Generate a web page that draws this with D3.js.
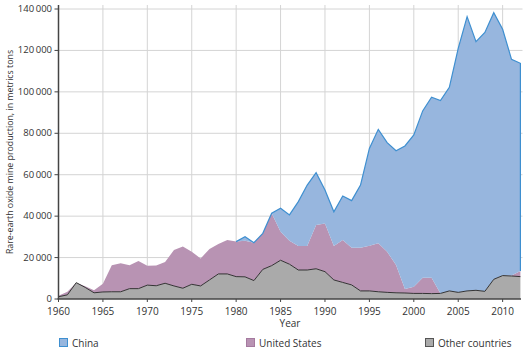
<!DOCTYPE html>
<html>
<head>
<meta charset="utf-8">
<script src="https://cdn.jsdelivr.net/npm/d3@7"></script>
<style>
  body { margin: 0; background: #fff; }
  text { font-family: 'Open Sans', sans-serif; fill: #333; }
</style>
</head>
<body>
<div id="chart"></div>
<script>
// years 1960-2012, metric tons of rare-earth oxide
var years = d3.range(1960, 2013);

var other = [1100, 2000, 7900, 5600, 3000, 3400, 3500, 3500, 5000, 5000,
    6700, 6400, 7600, 6300, 5200, 7100, 6300, 9200, 12100, 12100,
    10800, 10700, 8900, 14300, 16100, 18700, 16800, 14000, 14000, 14600,
    13200, 9200, 8000, 6800, 3900, 3900, 3500, 3200, 3000, 2900,
    2700, 2700, 2600, 2700, 3900, 3200, 3900, 4200, 3700, 9500,
    11300, 11100, 10800];

var unitedStates = [500, 1500, 0, 500, 1200, 4000, 12800, 13700, 11300, 13300,
    9400, 9800, 10300, 17300, 20200, 15700, 13300, 14900, 14400, 16400,
    16900, 17400, 18300, 17400, 25300, 13800, 11300, 11600, 11600, 21100,
    23300, 16400, 20500, 18000, 20900, 21800, 23400, 19600, 13400, 1900,
    3200, 7600, 7700, 0, 0, 0, 0, 0, 0, 0,
    0, 300, 2700];

var china = [0, 0, 0, 0, 0, 0, 0, 0, 0, 0,
    0, 0, 0, 0, 0, 0, 0, 0, 0, 0,
    0, 2000, 0, 0, 0, 11300, 12500, 21400, 29400, 25300,
    16100, 16500, 21200, 22700, 30200, 47000, 55000, 52700, 55200, 69100,
    73300, 80500, 87100, 93100, 98300, 117800, 132400, 120000, 125000, 128700,
    118900, 104300, 100300];

var yTicks = [0, 20000, 40000, 60000, 80000, 100000, 120000, 140000];
var xTicks = [1960, 1965, 1970, 1975, 1980, 1985, 1990, 1995, 2000, 2005, 2010];

var width = 527, height = 352;

var svg = d3.select('#chart').append('svg')
    .attr('width', width)
    .attr('height', height);

var x = d3.scaleLinear().domain([1960, 2012]).range([58.5, 520.4]);
var y = d3.scaleLinear().domain([0, 140000]).range([299, 9]);

var rows = years.map(function (yr, i) {
    return { year: yr, other: other[i], us: unitedStates[i], china: china[i] };
});

var keys = ['other', 'us', 'china'];
var fills = { other: '#aaaaaa', us: '#b893b3', china: '#97b6de' };
var series = d3.stack().keys(keys)(rows);

// grid
svg.append('g').selectAll('line.h')
    .data(yTicks.slice(1))
    .enter().append('line')
    .attr('x1', x(1960)).attr('x2', 522.5)
    .attr('y1', function (d) { return y(d); })
    .attr('y2', function (d) { return y(d); })
    .attr('stroke', '#d4d4d4').attr('stroke-width', 1);

svg.append('g').selectAll('line.v')
    .data(xTicks.slice(1))
    .enter().append('line')
    .attr('x1', function (d) { return x(d); })
    .attr('x2', function (d) { return x(d); })
    .attr('y1', 5).attr('y2', y(0))
    .attr('stroke', '#d4d4d4').attr('stroke-width', 1);

// areas
var area = d3.area()
    .x(function (d) { return x(d.data.year); })
    .y0(function (d) { return y(d[0]); })
    .y1(function (d) { return y(d[1]); });

svg.append('g').selectAll('path')
    .data(series)
    .enter().append('path')
    .attr('d', area)
    .attr('fill', function (s) { return fills[s.key]; });

var topLine = d3.line()
    .x(function (d) { return x(d.data.year); })
    .y(function (d) { return y(d[1]); });

// china outline, from 1980 on, plus right edge
var chinaPts = series[2].filter(function (d) { return d.data.year >= 1980; });
var last = chinaPts[chinaPts.length - 1];
svg.append('path')
    .attr('d', topLine(chinaPts) + 'L' + x(last.data.year) + ',' + y(last[0]))
    .attr('fill', 'none')
    .attr('stroke', '#3e8fd0')
    .attr('stroke-width', 1.2);

svg.append('path')
    .attr('d', topLine(series[0]))
    .attr('fill', 'none')
    .attr('stroke', '#333')
    .attr('stroke-width', 1);

// axes
svg.append('line')
    .attr('x1', x(1960)).attr('x2', x(1960))
    .attr('y1', 5).attr('y2', y(0))
    .attr('stroke', '#444').attr('stroke-width', 1.5);
svg.append('line')
    .attr('x1', x(1960) - 1).attr('x2', 521)
    .attr('y1', y(0)).attr('y2', y(0))
    .attr('stroke', '#444').attr('stroke-width', 1.5);

var fmt = function (d) {
    return d3.format(',')(d).replace(/,/g, '\u2009');
};

svg.append('g').selectAll('line')
    .data(yTicks)
    .enter().append('line')
    .attr('x1', x(1960) - 4).attr('x2', x(1960))
    .attr('y1', function (d) { return y(d); })
    .attr('y2', function (d) { return y(d); })
    .attr('stroke', '#444');

svg.append('g').selectAll('text')
    .data(yTicks)
    .enter().append('text')
    .attr('x', 52)
    .attr('y', function (d) { return y(d) + 3; })
    .attr('text-anchor', 'end')
    .attr('font-size', '9.5px')
    .text(fmt);

svg.append('g').selectAll('line')
    .data(xTicks)
    .enter().append('line')
    .attr('x1', function (d) { return x(d); })
    .attr('x2', function (d) { return x(d); })
    .attr('y1', y(0)).attr('y2', y(0) + 3)
    .attr('stroke', '#444');

svg.append('g').selectAll('text')
    .data(xTicks)
    .enter().append('text')
    .attr('x', function (d) { return x(d); })
    .attr('y', 315)
    .attr('text-anchor', 'middle')
    .attr('font-size', '10px')
    .text(function (d) { return d; });

svg.append('text')
    .attr('x', 290).attr('y', 327)
    .attr('text-anchor', 'middle')
    .attr('font-size', '10px')
    .text('Year');

svg.append('text')
    .attr('transform', 'translate(13,152) rotate(-90)')
    .attr('text-anchor', 'middle')
    .attr('font-size', '8.8px')
    .text('Rare-earth oxide mine production, in metrics tons');

// legend
var legend = [
    { key: 'china', label: 'China', x: 59 },
    { key: 'us', label: 'United States', x: 246 },
    { key: 'other', label: 'Other countries', x: 425 }
];
var strokes = { china: '#3e8fd0', us: '#a57a9f', other: '#555' };

var lg = svg.append('g').selectAll('g')
    .data(legend)
    .enter().append('g')
    .attr('transform', function (d) { return 'translate(' + d.x + ',338)'; });

lg.append('rect')
    .attr('x', 0.5).attr('y', 0.5)
    .attr('width', 8).attr('height', 8)
    .attr('fill', function (d) { return fills[d.key]; })
    .attr('stroke', function (d) { return strokes[d.key]; });

lg.append('text')
    .attr('x', 13).attr('y', 8.5)
    .attr('font-size', '10px')
    .text(function (d) { return d.label; });
</script>
</body>
</html>
